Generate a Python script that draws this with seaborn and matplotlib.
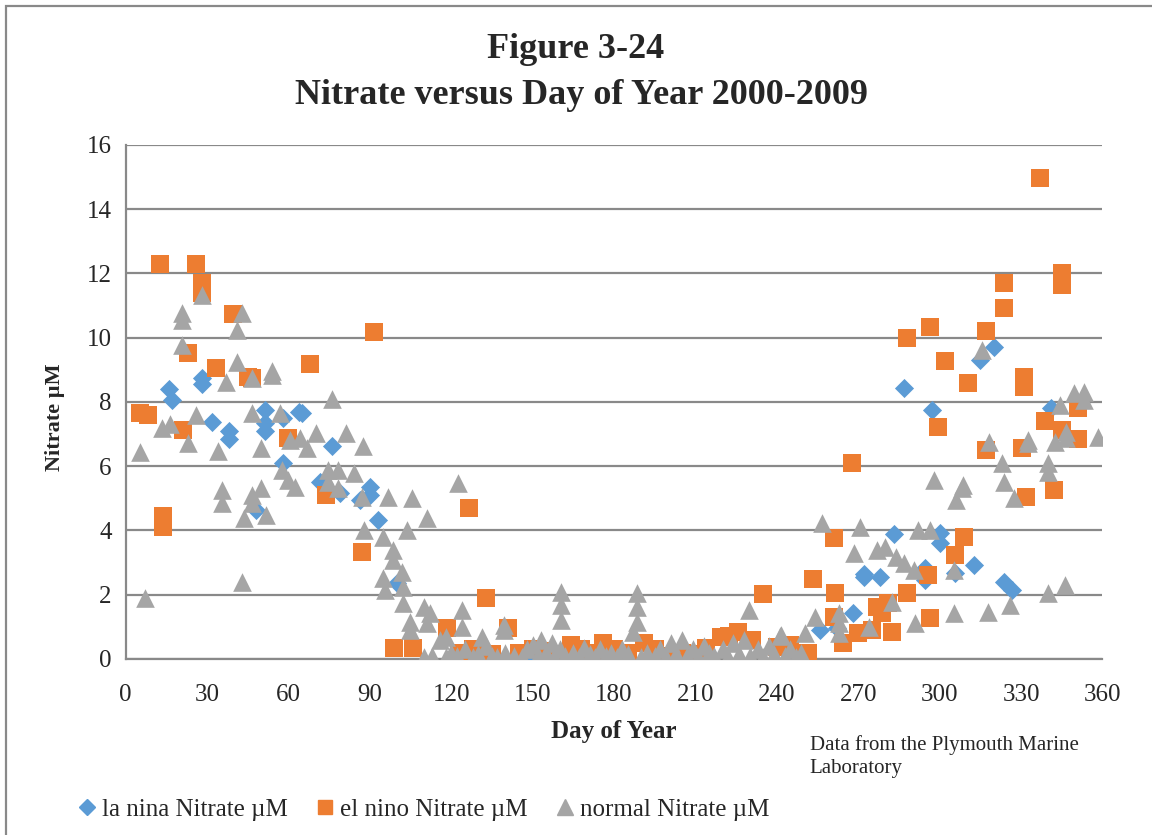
import matplotlib
matplotlib.use("Agg")
import matplotlib.pyplot as plt
from matplotlib.lines import Line2D
from matplotlib.patches import Rectangle
import pandas as pd
import seaborn as sns

# la nina series (day of year, nitrate uM)
lanina_day = [16, 17, 28, 28, 32, 38, 38, 48, 51.5, 51.5, 51.5, 58, 58, 64, 65,
              71.7, 73, 76, 79, 86.5, 90, 90, 93, 100, 150, 200, 215, 250, 256,
              262, 268, 272, 272, 278, 283, 287, 294.5, 294.5, 297, 300, 300,
              305.6, 312.6, 315, 320, 323.7, 326.7, 341]
lanina_no3 = [8.4, 8.06, 8.75, 8.56, 7.38, 7.1, 6.85, 4.64, 7.75, 7.35, 7.1, 7.5, 6.1, 7.7, 7.65,
              5.5, 5.45, 6.63, 5.17, 4.95, 5.36, 5.1, 4.33, 2.37, 0.1, 0.1, 0.15, 0.05, 0.9,
              0.95, 1.43, 2.65, 2.55, 2.55, 3.89, 8.43, 2.83, 2.46, 7.75, 3.92, 3.6,
              2.68, 2.92, 9.3, 9.7, 2.4, 2.15, 7.8]

# el nino series
elnino_day = [5.2, 8.1, 12.6, 13.7, 13.7, 21.1, 23, 25.9, 28, 28, 33.2, 39.6, 45, 46.5,
              60, 68, 73.9, 87, 91.4, 99, 106, 118.3, 123, 126.4, 133, 141,
              128, 135, 145, 150, 155, 158, 164, 168, 172, 176, 180, 185, 191, 195,
              200, 205, 210, 214, 219.5, 222.5, 225.7, 231, 235, 240, 245, 251.6, 253.5,
              261, 261.3, 261, 264.5, 267.6, 270, 275, 276.8, 278.6, 281, 282.3,
              288, 288, 295.6, 296.3, 296.3, 299.3, 302, 305.6, 309, 310.4, 317, 317,
              323.6, 323.6, 330.4, 331, 331, 331.8, 337, 339, 342, 345, 345, 345, 351, 351]
elnino_no3 = [7.66, 7.6, 12.3, 4.45, 4.1, 7.13, 9.52, 12.3, 11.7, 11.4, 9.06, 10.74, 8.78, 8.75,
              6.88, 9.18, 5.1, 3.33, 10.18, 0.34, 0.34, 0.96, 0.2, 4.7, 1.9, 0.96,
              0.3, 0.15, 0.2, 0.3, 0.25, 0.1, 0.43, 0.3, 0.2, 0.5, 0.3, 0.2, 0.5, 0.3,
              0.1, 0.2, 0.15, 0.35, 0.68, 0.7, 0.84, 0.6, 2.02, 0.37, 0.45, 0.2, 2.5,
              3.77, 2.05, 1.3, 0.5, 6.1, 0.8, 0.9, 1.62, 1.43, 1.74, 0.84,
              2.05, 10.0, 2.6, 10.33, 1.28, 7.23, 9.28, 3.24, 3.8, 8.6, 10.2, 6.5,
              11.7, 10.92, 6.56, 8.78, 8.47, 5.04, 14.96, 7.4, 5.26, 12.0, 11.64, 7.13, 7.8, 6.85]

# normal years series
normal_day = [7, 5.2, 13.3, 16.3, 20.7, 20.7, 20.7, 28, 26, 23, 43, 41, 41, 37, 46.5, 54, 54,
              46.5, 57, 50, 60.6, 64.3, 67, 70, 34, 35.5, 35.5, 46.5, 46.5, 50, 43.6, 51.7,
              57.7, 60, 62.4, 43,
              76, 81.3, 87.6, 74.6, 78.4, 84, 74.6, 78.4, 87, 96.8, 105.6, 110.9, 122.6,
              88, 95, 103.8, 98.7, 98.7, 95, 95.7, 102, 102.4, 102.4, 105, 105, 109.8,
              112.3, 110.9, 124, 124, 116, 117.9, 131.5, 139.3, 139.3, 160.4, 160.4, 160.4,
              188.5, 188.5, 188.5, 187, 201,
              110, 113, 118, 120, 122, 125, 128, 130, 133, 135, 137, 140, 143, 146, 148,
              150, 152, 153, 155, 157, 158, 160, 162, 165, 167, 169, 171, 173, 175, 177,
              179, 181, 183, 185, 190, 192, 195, 197, 199, 203, 205, 207, 209, 211, 213,
              215, 217, 220, 222, 224, 226, 228, 230, 233, 235, 237, 239, 241, 243, 245,
              247, 249,
              229.8, 241.7, 250.2, 253.9, 256.5, 263, 263, 263, 268.3, 270.5, 273.8, 277,
              279.7, 282.3, 284, 286.7, 290.4, 291, 292, 296.4, 297.9, 305.3, 305.3, 306,
              308.2, 308.6, 315.6, 318, 318.2, 323, 323.7, 326, 327.4, 332.6, 332.6, 340,
              340, 340, 342.6, 344.4, 346.3, 346.6, 346.6, 349.6, 353.3, 353.3, 358.5]
normal_no3 = [1.9, 6.44, 7.2, 7.3, 10.77, 10.55, 9.77, 11.33, 7.6, 6.72, 10.77, 10.24, 9.24, 8.62, 8.75, 8.97, 8.84,
              7.65, 7.65, 6.57, 6.82, 6.88, 6.57, 7.03, 6.48, 5.26, 4.86, 5.1, 4.86, 5.32, 4.39, 4.48,
              5.88, 5.57, 5.36, 2.4,
              8.1, 7.03, 6.63, 5.88, 5.88, 5.78, 5.5, 5.32, 5.04, 5.04, 5.0, 4.39, 5.47,
              4.0, 3.8, 4.0, 3.39, 3.08, 2.52, 2.15, 2.71, 2.24, 1.74, 1.15, 0.9, 1.62,
              1.43, 1.12, 1.52, 1.0, 0.59, 0.68, 0.68, 1.06, 0.9, 2.09, 1.68, 1.21,
              2.05, 1.62, 1.15, 0.84, 0.5,
              0.05, 0.1, 0.05, 0.2, 0.1, 0.3, 0.05, 0.15, 0.4, 0.1, 0.05, 0.2, 0.1, 0.05, 0.3,
              0.45, 0.1, 0.6, 0.2, 0.5, 0.05, 0.3, 0.1, 0.2, 0.05, 0.35, 0.15, 0.05, 0.3, 0.1,
              0.2, 0.05, 0.3, 0.15, 0.05, 0.2, 0.1, 0.3, 0.05, 0.15, 0.6, 0.1, 0.3, 0.05, 0.4,
              0.2, 0.1, 0.3, 0.05, 0.5, 0.15, 0.6, 0.1, 0.3, 0.05, 0.4, 0.15, 0.7, 0.1, 0.3,
              0.05, 0.2,
              1.52, 0.75, 0.8, 1.31, 4.23, 1.43, 1.12, 0.8, 3.3, 4.11, 1.0, 3.39,
              3.49, 1.77, 3.18, 2.99, 2.77, 1.12, 4.01, 4.01, 5.57, 2.77, 1.43, 4.95,
              5.32, 5.41, 9.62, 1.46, 6.76, 6.1, 5.5, 1.68, 5.0, 6.82, 6.72, 6.1,
              5.82, 2.05, 6.76, 7.91, 2.3, 7.06, 6.88, 8.28, 8.31, 8.06, 6.9]

c_blue = "#5B9BD5"
c_orange = "#ED7D31"
c_gray = "#A5A5A5"
grid_c = "#898989"

sns.set_style("white")
plt.rcParams['font.family'] = ['Liberation Serif', 'DejaVu Serif']

fig = plt.figure(figsize=(11.52, 8.35), dpi=100)
ax = fig.add_axes([0.109, 0.2108, 0.848, 0.6156])

df_ln = pd.DataFrame({"day": lanina_day, "no3": lanina_no3})
df_en = pd.DataFrame({"day": elnino_day, "no3": elnino_no3})
df_nm = pd.DataFrame({"day": normal_day, "no3": normal_no3})

# drawn in Excel series order: la nina, el nino, then normal on top
sns.scatterplot(data=df_ln, x="day", y="no3", ax=ax, marker="D", s=95,
                color=c_blue, linewidth=0, zorder=3)
sns.scatterplot(data=df_en, x="day", y="no3", ax=ax, marker="s", s=170,
                color=c_orange, linewidth=0, zorder=4)
sns.scatterplot(data=df_nm, x="day", y="no3", ax=ax, marker="^", s=180,
                color=c_gray, linewidth=0, zorder=5)

ax.set_xlim(0, 360)
ax.set_ylim(0, 16)
ax.set_xticks(range(0, 361, 30))
ax.set_yticks(range(0, 17, 2))
ax.yaxis.grid(True, color=grid_c, linewidth=1.6)
ax.xaxis.grid(False)
ax.set_axisbelow(True)
for side in ["top", "right"]:
    ax.spines[side].set_visible(False)
for side in ["left", "bottom"]:
    ax.spines[side].set_color(grid_c)
    ax.spines[side].set_linewidth(1.6)
ax.tick_params(axis="both", length=0, labelsize=18)
ax.tick_params(axis="x", pad=18)
ax.tick_params(axis="y", pad=10)

ax.set_xlabel("Day of Year", fontsize=18, fontweight="bold", labelpad=10)
ax.set_ylabel("Nitrate µM", fontsize=16, fontweight="bold")
ax.yaxis.set_label_coords(-0.062, 0.47)

fig.text(0.5, 0.941, "Figure 3-24", ha="center", va="center",
         fontsize=26, fontweight="bold")
fig.text(0.505, 0.886, "Nitrate versus Day of Year 2000-2009", ha="center",
         va="center", fontsize=26, fontweight="bold")

fig.text(0.703, 0.094, "Data from the Plymouth Marine\nLaboratory", ha="left",
         va="center", fontsize=15, linespacing=1.3)

handles = [
    Line2D([], [], marker="D", color=c_blue, linestyle="none", markersize=8),
    Line2D([], [], marker="s", color=c_orange, linestyle="none", markersize=10),
    Line2D([], [], marker="^", color=c_gray, linestyle="none", markersize=11),
]
labels = ["la nina Nitrate µM", "el nino Nitrate µM", "normal Nitrate µM"]
fig.legend(handles, labels, loc="center left", bbox_to_anchor=(0.045, 0.03),
           ncol=3, frameon=False, fontsize=18, handletextpad=0.1,
           columnspacing=1.0, handlelength=1.0)

fig.add_artist(Rectangle((0.0052, -0.1), 2, 1.0928, transform=fig.transFigure,
                         fill=False, edgecolor=grid_c, linewidth=1.6))

fig.savefig("out.png", dpi=100)
